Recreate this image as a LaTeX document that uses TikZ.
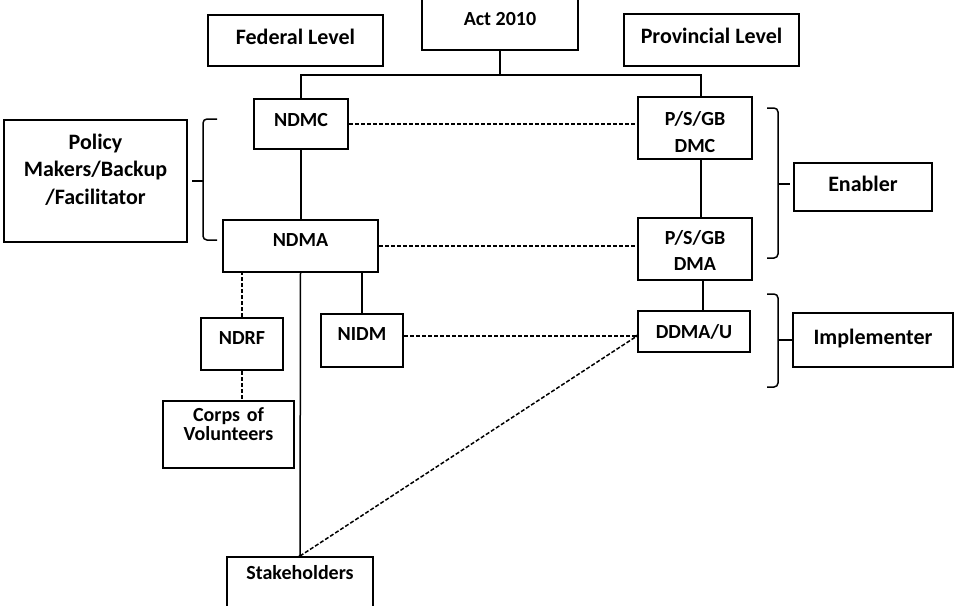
\documentclass[tikz,border=0pt]{standalone}
\usepackage{fontspec}
\setmainfont{Carlito}
\usepackage{tikz}

\begin{document}
\begin{tikzpicture}[x=0.5pt,y=-0.5pt,
    box/.style={draw, line width=1pt, inner sep=0pt, align=center,
      font=\bfseries\fontsize{10}{13.5}\selectfont},
    bigbox/.style={box, font=\bfseries\fontsize{11}{13.75}\selectfont},
    txt/.style 2 args={text height=#1, text depth=#2},
    link/.style={line width=0.75pt},
    dline/.style={line width=0.75pt, dash pattern=on 2pt off 1pt},
    brace/.style={line width=0.75pt, rounded corners=2pt}]
    \useasboundingbox[fill=white] (0,0) rectangle (955,606);
    \node[bigbox, minimum width=87.5pt, minimum height=25.5pt, txt={7.1pt}{3.5pt}] (fed) at (295.5,40.5) {Federal Level};
    \node[box, minimum width=78pt, minimum height=25.5pt, txt={6.5pt}{5.5pt}] (act) at (500,24.5) {Act 2010};
    \node[bigbox, minimum width=87.5pt, minimum height=26pt, txt={7.1pt}{4pt}] (prov) at (711.5,40) {Provincial Level};
    \node[box, minimum width=47pt, minimum height=25pt, txt={6.5pt}{4pt}] (ndmc) at (301,124) {NDMC};
    \node[box, minimum width=57pt, minimum height=31pt, text width=50pt, txt={6.5pt}{9pt}] (dmc) at (695,128) {P/S/GB\\DMC};
    \node[box, minimum width=77.5pt, minimum height=26pt, txt={6.5pt}{6pt}] (ndma) at (300.5,246) {NDMA};
    \node[box, minimum width=57pt, minimum height=31pt, text width=50pt, font=\bfseries\fontsize{10}{13}\selectfont, txt={6.5pt}{11pt}] (dma) at (695,249) {P/S/GB\\DMA};
    \node[bigbox, minimum width=91.5pt, minimum height=61pt, text width=85pt, txt={7.1pt}{39pt}] (policy) at (95.5,181) {Policy\\Makers/Backup\\/Facilitator};
    \node[bigbox, minimum width=69pt, minimum height=24pt, txt={7.1pt}{3pt}] (enabler) at (863,187) {Enabler};
    \node[box, minimum width=41pt, minimum height=26pt, txt={6.5pt}{6pt}] (ndrf) at (242,344) {NDRF};
    \node[box, minimum width=41pt, minimum height=26.5pt, txt={6.5pt}{6.5pt}] (nidm) at (362,340.5) {NIDM};
    \node[box, minimum width=56pt, minimum height=20.5pt, txt={6.5pt}{0pt}] (ddma) at (694,331.5) {DDMA/U};
    \node[bigbox, minimum width=80pt, minimum height=27pt, txt={7.1pt}{3pt}] (impl) at (873,340) {Implementer};
    \node[box, minimum width=65.5pt, minimum height=33.5pt, text width=60pt, font=\bfseries\fontsize{10}{9.5}\selectfont, txt={6.5pt}{19.5pt}] (corps) at (228.5,434.5) {Corps of\\Volunteers};
    \node[box, minimum width=73pt, minimum height=31.5pt, txt={6.5pt}{15.5pt}] (stake) at (300,588.5) {Stakeholders};

    \coordinate (bus) at (500,75);
    \draw[link] (act.south) -- (act.south |- bus);
    \draw[link] (ndmc.north) |- (bus) -| ([xshift=3pt]dmc.north);
    \draw[link] ([xshift=3pt]dmc.south) -- ([xshift=3pt]dma.north);
    \draw[link] ([xshift=4pt]dma.south) -- ([xshift=4pt]dma.south |- ddma.north);
    \draw[link] (ndmc.south) -- (ndmc.south |- ndma.north);
    \draw[link] (nidm.north) -- (nidm.north |- ndma.south);
    \draw[link] (ndma.south) -- (stake.north);
    \draw[dline] (ndmc.east) -- (ndmc.east -| dmc.west);
    \draw[dline] (ndma.east) -- (ndma.east -| dma.west);
    \draw[dline] (ndrf.north) -- (ndrf.north |- ndma.south);
    \draw[dline] (ndrf.south) -- (ndrf.south |- corps.north);
    \coordinate (ddin) at ([yshift=-2.25pt]ddma.west);
    \draw[dline] (nidm.east |- ddin) -- (ddin);
    \draw[dline] (stake.north) -- (ddin);
    \fill (ddin) circle (0.8pt);
    \fill (stake.north) circle (0.8pt);

    \draw[brace] (217,119) -- (203,119) -- (203,240) -- (217,240);
    \draw[link] (203,181) -- (192,181);
    \draw[brace] (767,108) -- (778,108) -- (778,258) -- (767,258);
    \draw[link] (778,184) -- (790,184);
    \draw[brace] (767,294) -- (778,294) -- (778,387) -- (767,387);
    \draw[link] (778,340) -- (792,340);
\end{tikzpicture}
\end{document}
